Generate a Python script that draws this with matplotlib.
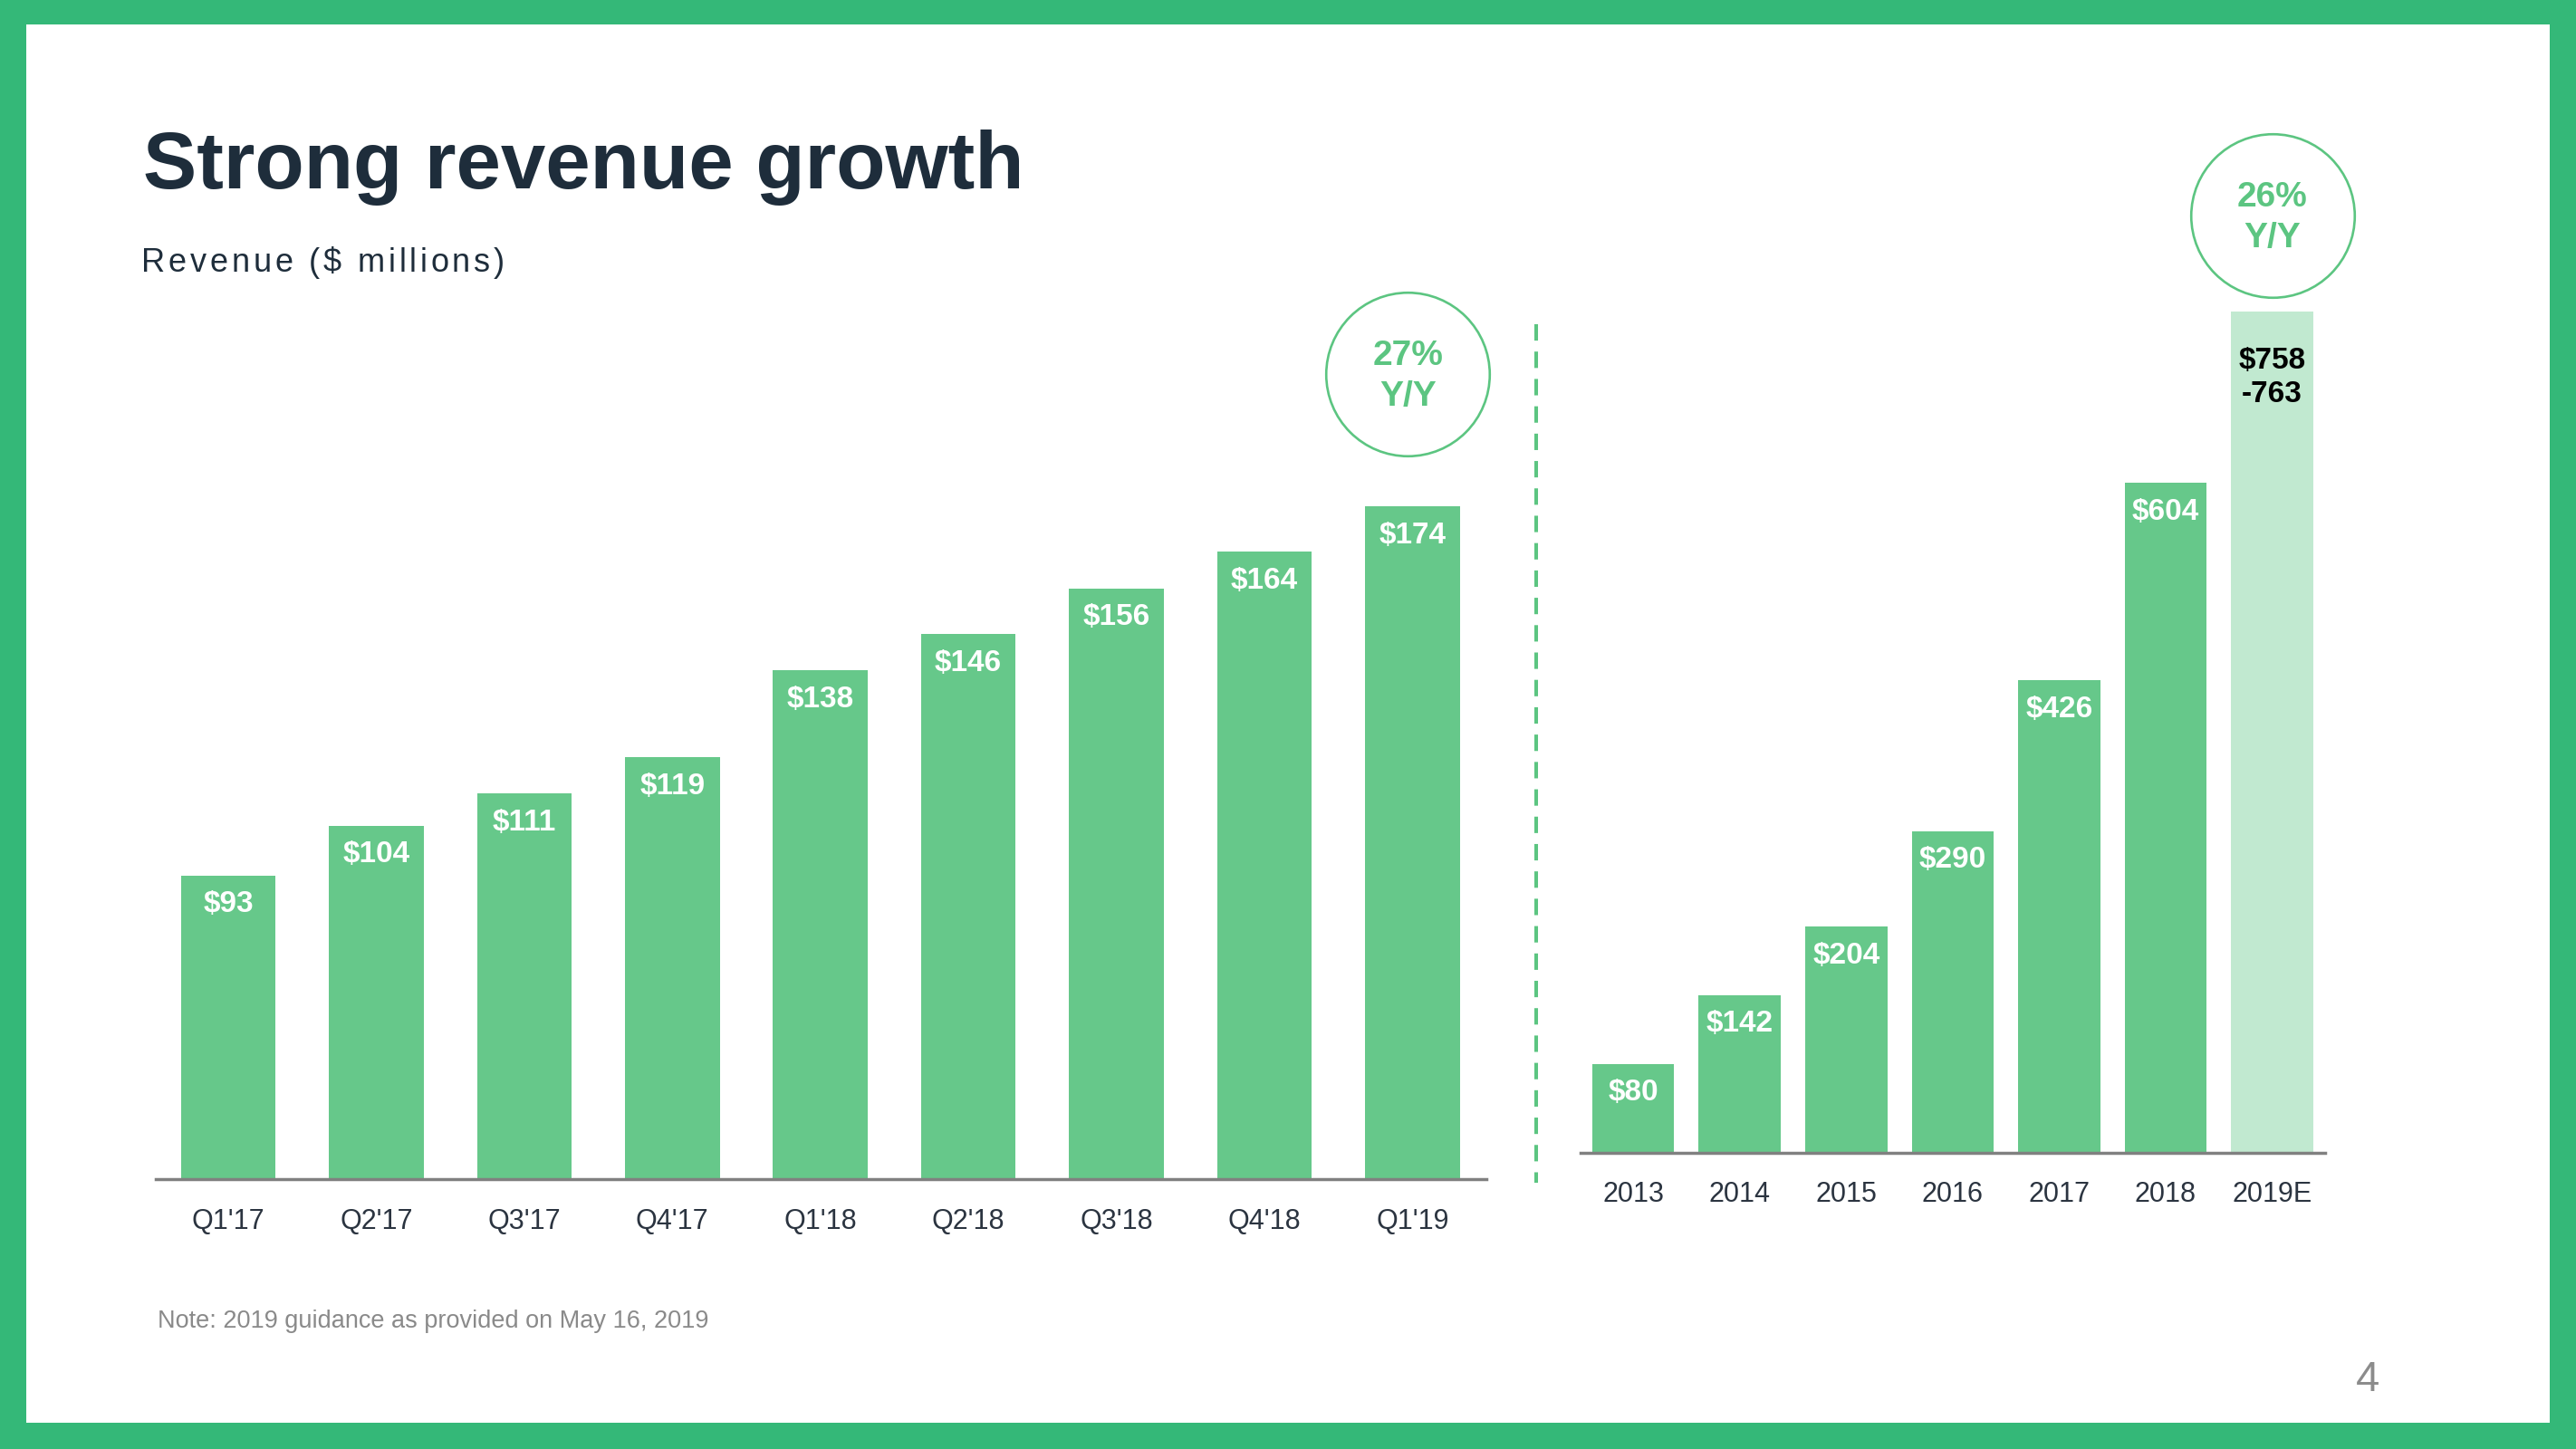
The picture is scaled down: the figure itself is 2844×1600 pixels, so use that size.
import matplotlib
matplotlib.use("Agg")
import matplotlib.pyplot as plt
from matplotlib.patches import Rectangle
from matplotlib.lines import Line2D

plt.rcParams['font.family'] = ['Liberation Sans', 'DejaVu Sans']

# data
quarters = ["Q1'17", "Q2'17", "Q3'17", "Q4'17", "Q1'18", "Q2'18", "Q3'18", "Q4'18", "Q1'19"]
q_revenue = [93, 104, 111, 119, 138, 146, 156, 164, 174]
years = ["2013", "2014", "2015", "2016", "2017", "2018", "2019E"]
y_revenue = [80, 142, 204, 290, 426, 604, 758]
y_labels = ["$80", "$142", "$204", "$290", "$426", "$604", "$758\n-763"]
q_growth = "27%\nY/Y"
y_growth = "26%\nY/Y"

BORDER = '#34b878'
BAR = '#66c88a'
BAR_EST = '#c1e9d0'
RING = '#5cc581'
DARK = '#1e2d3b'
TICK = '#2b3440'

fig = plt.figure(figsize=(28.44, 16), dpi=100)
fig.patch.set_facecolor(BORDER)
fig.add_artist(Rectangle((29 / 2844, 29 / 1600), 1 - 58 / 2844, 1 - 56 / 1600,
                         transform=fig.transFigure, facecolor='white', edgecolor='none', zorder=0))

fig.text(158 / 2844, 1 - 185 / 1600, "Strong revenue growth", fontsize=64, fontweight='bold',
         color=DARK, va='center', ha='left')

# subtitle with letter spacing, placed char by char
renderer = fig.canvas.get_renderer()
subtitle = "Revenue ($ millions)"
x0 = 156 / 2844
tracking = 3.8 / 2844
probe = fig.text(0, 0, "", fontsize=26)
for i, ch in enumerate(subtitle):
    probe.set_text(subtitle[:i] + "|")
    w = probe.get_window_extent(renderer).width
    probe.set_text("|")
    w -= probe.get_window_extent(renderer).width
    fig.text(x0 + w / 2844 + i * tracking, 1 - 290 / 1600, ch, fontsize=26, color=DARK,
             va='center', ha='left')
probe.remove()


def style(ax, pad):
    for s in ['top', 'right', 'left']:
        ax.spines[s].set_visible(False)
    ax.spines['bottom'].set_color('#808080')
    ax.spines['bottom'].set_linewidth(2.5)
    ax.set_yticks([])
    ax.tick_params(axis='x', length=0, pad=pad, labelsize=22, labelcolor=TICK)
    ax.patch.set_alpha(0)


def ring(ax, x, y, txt):
    ax.plot([x], [y], marker='o', ms=130, mfc='none', mec=RING, mew=1.9, clip_on=False)
    ax.annotate(txt, (x, y), xytext=(0, -2), textcoords='offset points',
                ha='center', va='center', fontsize=28, fontweight='bold',
                color=RING, linespacing=1.32, annotation_clip=False)


# quarterly chart
ax1 = fig.add_axes([172 / 2844, 1 - 1302 / 1600, 1469 / 2844, 1025 / 1600])
ax1.bar(range(len(quarters)), q_revenue, width=0.64, color=BAR, zorder=2)
ax1.set_xlim(-0.49, 8.5)
ax1.set_ylim(26.5, 230)
ax1.set_xticks(range(len(quarters)))
ax1.set_xticklabels(quarters)
style(ax1, 23)
for i, v in enumerate(q_revenue):
    ax1.annotate(f"${v}", (i, v), xytext=(0, -23), textcoords='offset points',
                 ha='center', va='center', fontsize=24, fontweight='bold', color='white')
ring(ax1, len(quarters) - 1.03, q_revenue[-1] + 29, q_growth)

# annual chart
ax2 = fig.add_axes([1745 / 2844, 1 - 1273 / 1600, 822 / 2844, 1078 / 1600])
colors = [BAR] * (len(years) - 1) + [BAR_EST]
ax2.bar(range(len(years)), y_revenue, width=0.77, color=colors, zorder=2)
ax2.set_xlim(-0.494, 6.497)
ax2.set_ylim(0, 880)
ax2.set_xticks(range(len(years)))
ax2.set_xticklabels(years)
style(ax2, 22)
for i, (v, lab) in enumerate(zip(y_revenue, y_labels)):
    if i == len(years) - 1:
        ax2.annotate(lab, (i, v), xytext=(0, -52), textcoords='offset points',
                     ha='center', va='center', fontsize=24, fontweight='bold',
                     color='black', linespacing=1.25)
    else:
        ax2.annotate(lab, (i, v), xytext=(0, -23), textcoords='offset points',
                     ha='center', va='center', fontsize=24, fontweight='bold', color='white')
ring(ax2, len(years) - 1, y_revenue[-1] + 87, y_growth)

# dashed separator
fig.add_artist(Line2D([1696 / 2844, 1696 / 2844], [1 - 358 / 1600, 1 - 1306 / 1600],
                      transform=fig.transFigure, color=RING, lw=2.9, dashes=(4.5, 3)))

fig.text(174 / 2844, 1 - 1459 / 1600, "Note: 2019 guidance as provided on May 16, 2019",
         fontsize=19.5, color='#8a8a8a', va='center', ha='left')
fig.text(2614 / 2844, 1 - 1524 / 1600, "4", fontsize=34, color='#8c8c8c',
         va='center', ha='center')

fig.savefig('out.png', dpi=100, facecolor=fig.get_facecolor())
